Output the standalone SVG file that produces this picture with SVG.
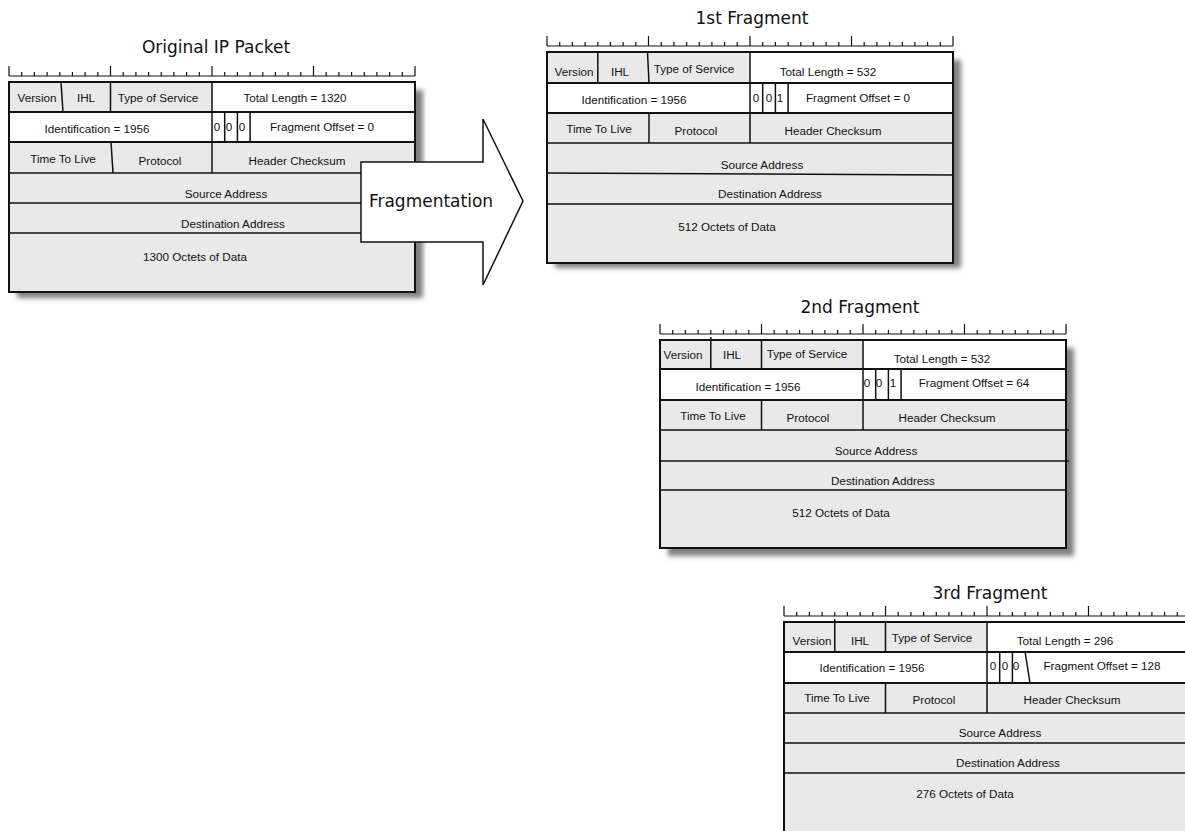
<svg xmlns="http://www.w3.org/2000/svg" xmlns:xlink="http://www.w3.org/1999/xlink" width="1185" height="831" viewBox="0 0 1185 831">
<style>
.title{font-family:"DejaVu Sans","Verdana",sans-serif;font-size:17px;fill:#111;text-anchor:middle}
.t{font-family:"Liberation Sans",Arial,sans-serif;font-size:11.7px;fill:#111;text-anchor:middle}
.bg{fill:#e9e9e9}
.wh{fill:#ffffff}
.grid{fill:none;stroke:#111;stroke-width:1.5}
.grid2{fill:none;stroke:#111;stroke-width:2}
.border{fill:none;stroke:#111;stroke-width:2}
.ruler{fill:none;stroke:#111;stroke-width:1.2}
.shadow{fill:#808080}
.arrow{fill:#ffffff;stroke:#111;stroke-width:1.5}
</style>
<defs>
<filter id="blur" x="-10%" y="-10%" width="120%" height="120%">
<feGaussianBlur stdDeviation="2.5"/>
</filter>
<path id="ruler" class="ruler" d="M0,-6H406 M0,-16V-6 M101.5,-16V-6 M203,-16V-6 M304.5,-16V-6 M406,-16V-6 M12.7,-10V-6 M25.4,-10V-6 M38.1,-10V-6 M50.8,-10V-6 M63.4,-10V-6 M76.1,-10V-6 M88.8,-10V-6 M114.2,-10V-6 M126.9,-10V-6 M139.6,-10V-6 M152.3,-10V-6 M164.9,-10V-6 M177.6,-10V-6 M190.3,-10V-6 M215.7,-10V-6 M228.4,-10V-6 M241.1,-10V-6 M253.8,-10V-6 M266.4,-10V-6 M279.1,-10V-6 M291.8,-10V-6 M317.2,-10V-6 M329.9,-10V-6 M342.6,-10V-6 M355.3,-10V-6 M367.9,-10V-6 M380.6,-10V-6 M393.3,-10V-6"/>
<rect id="shadowRect" class="shadow" x="8" y="8" width="406" height="208"/>
</defs>

<g id="original-packet" transform="translate(9,82)">
<text class="title" x="207" y="-29">Original IP Packet</text>
<use xlink:href="#ruler" href="#ruler"/>
<use xlink:href="#shadowRect" href="#shadowRect" filter="url(#blur)"/>
<rect class="bg" x="0" y="0" width="406" height="210"/>
<rect class="wh" x="203" y="0" width="203" height="30"/>
<rect class="wh" x="0" y="30" width="406" height="30"/>
<path class="grid" d="M0,91H406 M0,121H406 M0,151H406 M52,0L54,30 M101.5,0V30 M203,0V91 M215.7,30V60 M228.4,30V60 M241.1,30V60 M102,60L104,91"/>
<path class="grid2" d="M0,30H406 M0,60H406"/>
<rect class="border" x="0" y="0" width="406" height="210"/>
<text class="t" x="28" y="20">Version</text>
<text class="t" x="77" y="20">IHL</text>
<text class="t" x="149" y="20">Type of Service</text>
<text class="t" x="286" y="20">Total Length = 1320</text>
<text class="t" x="88" y="51">Identification = 1956</text>
<text class="t" x="208" y="49">0</text>
<text class="t" x="220" y="49">0</text>
<text class="t" x="233" y="49">0</text>
<text class="t" x="313" y="49">Fragment Offset = 0</text>
<text class="t" x="54" y="81">Time To Live</text>
<text class="t" x="151" y="83">Protocol</text>
<text class="t" x="288" y="83">Header Checksum</text>
<text class="t" x="217" y="116">Source Address</text>
<text class="t" x="224" y="146">Destination Address</text>
<text class="t" x="186" y="179">1300 Octets of Data</text>
</g>

<g id="fragment-1" transform="translate(547,52)">
<text class="title" x="205" y="-28">1st Fragment</text>
<use xlink:href="#ruler" href="#ruler"/>
<use xlink:href="#shadowRect" href="#shadowRect" filter="url(#blur)"/>
<rect class="bg" x="0" y="0" width="406" height="211"/>
<rect class="wh" x="203" y="0" width="203" height="31"/>
<rect class="wh" x="0" y="31" width="406" height="30"/>
<path class="grid" d="M0,91H406 M0,121L406,123 M0,152H406 M50.8,0V31 M100.5,0L102,31 M203,0V91 M215.7,31V61 M228.4,31V61 M241.1,31V61 M102,61V91"/>
<path class="grid2" d="M0,31H406 M0,61H406"/>
<rect class="border" x="0" y="0" width="406" height="211"/>
<text class="t" x="27" y="24">Version</text>
<text class="t" x="73" y="24">IHL</text>
<text class="t" x="147" y="21">Type of Service</text>
<text class="t" x="281" y="24">Total Length = 532</text>
<text class="t" x="87" y="52">Identification = 1956</text>
<text class="t" x="209" y="50">0</text>
<text class="t" x="222" y="50">0</text>
<text class="t" x="233" y="50">1</text>
<text class="t" x="311" y="50">Fragment Offset = 0</text>
<text class="t" x="52" y="81">Time To Live</text>
<text class="t" x="149" y="83">Protocol</text>
<text class="t" x="286" y="83">Header Checksum</text>
<text class="t" x="215" y="117">Source Address</text>
<text class="t" x="223" y="146">Destination Address</text>
<text class="t" x="180" y="179">512 Octets of Data</text>
</g>

<g id="fragment-2" transform="translate(660,340)">
<text class="title" x="200" y="-27">2nd Fragment</text>
<use xlink:href="#ruler" href="#ruler"/>
<use xlink:href="#shadowRect" href="#shadowRect" filter="url(#blur)"/>
<rect class="bg" x="0" y="0" width="406" height="208"/>
<rect class="wh" x="203" y="0" width="203" height="29"/>
<rect class="wh" x="0" y="29" width="406" height="31"/>
<path class="grid" d="M0,90H409 M0,121H409 M0,150H406 M50.8,-3V29 M101.5,0V29 M203,0V90 M215.7,29V60 M228.4,29V60 M241.1,29V60 M101.5,60V90"/>
<path class="grid2" d="M0,29H406 M0,60H406"/>
<rect class="border" x="0" y="0" width="406" height="208"/>
<text class="t" x="23" y="19">Version</text>
<text class="t" x="72" y="19">IHL</text>
<text class="t" x="147" y="18">Type of Service</text>
<text class="t" x="282" y="23">Total Length = 532</text>
<text class="t" x="88" y="51">Identification = 1956</text>
<text class="t" x="207" y="47">0</text>
<text class="t" x="219" y="47">0</text>
<text class="t" x="233" y="47">1</text>
<text class="t" x="314" y="47">Fragment Offset = 64</text>
<text class="t" x="53" y="80">Time To Live</text>
<text class="t" x="148" y="82">Protocol</text>
<text class="t" x="287" y="82">Header Checksum</text>
<text class="t" x="216" y="115">Source Address</text>
<text class="t" x="223" y="145">Destination Address</text>
<text class="t" x="181" y="177">512 Octets of Data</text>
</g>

<g id="fragment-3" transform="translate(784,622)">
<text class="title" x="206" y="-23">3rd Fragment</text>
<use xlink:href="#ruler" href="#ruler"/>
<use xlink:href="#shadowRect" href="#shadowRect" filter="url(#blur)"/>
<rect class="bg" x="0" y="0" width="406" height="210"/>
<rect class="wh" x="203" y="0" width="203" height="30"/>
<rect class="wh" x="0" y="30" width="406" height="31"/>
<path class="grid" d="M0,91H406 M0,121H406 M0,151H406 M50.8,-3V30 M101.5,0V30 M203,0V91 M215.7,30V61 M228.4,30V61 M241.1,30L246,61 M101.5,61V91"/>
<path class="grid2" d="M0,30H406 M0,61H406"/>
<rect class="border" x="0" y="0" width="406" height="210"/>
<text class="t" x="28" y="23">Version</text>
<text class="t" x="76" y="23">IHL</text>
<text class="t" x="148" y="20">Type of Service</text>
<text class="t" x="281" y="23">Total Length = 296</text>
<text class="t" x="88" y="50">Identification = 1956</text>
<text class="t" x="209" y="48">0</text>
<text class="t" x="221" y="48">0</text>
<text class="t" x="232" y="48">0</text>
<text class="t" x="318" y="48">Fragment Offset = 128</text>
<text class="t" x="53" y="80">Time To Live</text>
<text class="t" x="150" y="82">Protocol</text>
<text class="t" x="288" y="82">Header Checksum</text>
<text class="t" x="216" y="115">Source Address</text>
<text class="t" x="224" y="145">Destination Address</text>
<text class="t" x="181" y="176">276 Octets of Data</text>
</g>

<g id="connectors">
<g id="fragmentation-arrow">
<polygon class="arrow" points="361,162 483,162 483,119 523,201 483,285 483,242 361,242"/>
<text class="title" x="431" y="207">Fragmentation</text>
</g>
</g>
</svg>
